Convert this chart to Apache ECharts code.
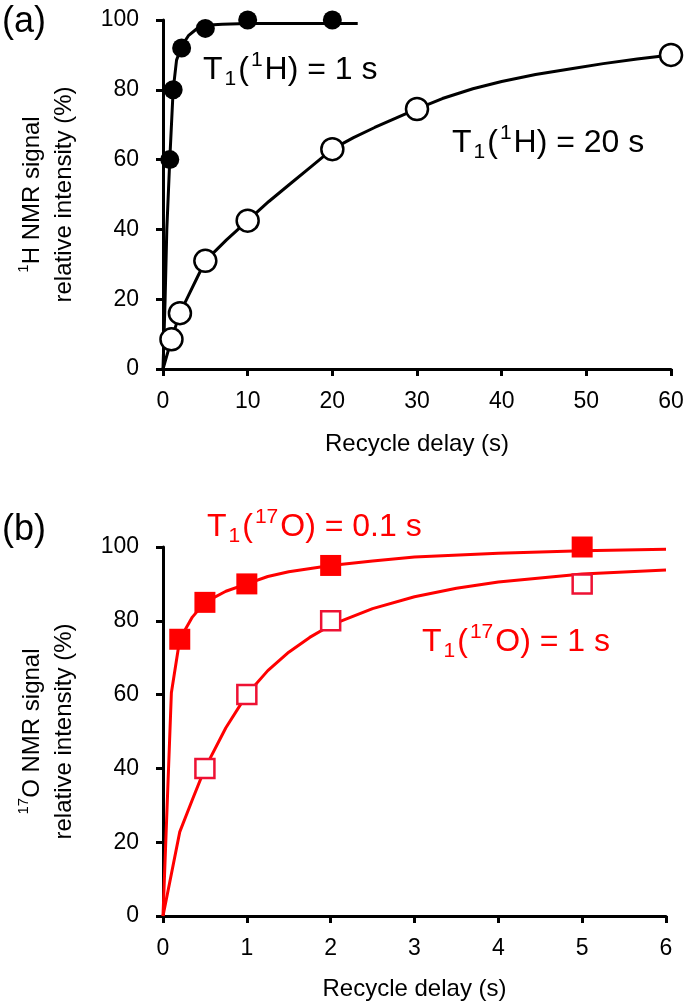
<!DOCTYPE html>
<html><head><meta charset="utf-8">
<script src="https://cdn.jsdelivr.net/npm/echarts@6/dist/echarts.min.js"></script>
<style>html,body{margin:0;padding:0;background:#fff}#c{width:687px;height:1006px}</style>
</head><body><div id="c"></div>
<script>
// ---- Panel (a): 1H ----
const hFastPtsT = [0.8, 1.2, 2.2, 5, 10, 20];
const hFastPtsV = [60, 80, 92, 97.6, 100, 100];
const hFastFitT = [0, 0.25, 0.45, 0.8, 1.2, 1.6, 2.2, 3, 4, 5, 7, 10, 23];
const hFastFitV = [0, 20, 40, 60, 80, 88.5, 92.5, 95.5, 97.5, 98.5, 98.8, 99, 99];
const hSlowPtsT = [1, 2, 5, 10, 20, 30, 60];
const hSlowPtsV = [8.5, 16, 31, 42.5, 63, 74.5, 90];
const hSlowFitT = [0, 1, 2, 3, 4, 5, 7.5, 10, 12.5, 15, 17.5, 20, 22.5, 25, 27.5, 30, 33, 36.6, 40, 44, 48.4, 52, 56, 60];
const hSlowFitV = [0, 8.5, 16, 21, 26, 31, 37, 42.5, 48, 53, 58, 63, 66.3, 69.2, 71.9, 74.5, 77.5, 80.3, 82.4, 84.4, 86.1, 87.5, 88.8, 90];
const hXTicks = [0, 10, 20, 30, 40, 50, 60];
// ---- Panel (b): 17O ----
const oFastPtsT = [0.2, 0.5, 1, 2, 5];
const oFastPtsV = [75, 85, 90, 95, 100];
const oFastFitT = [0, 0.1, 0.2, 0.35, 0.5, 0.75, 1, 1.25, 1.5, 2, 2.5, 3, 4, 5, 6];
const oFastFitV = [0, 60.5, 75, 81, 85, 88, 90, 92, 93.3, 95, 96.2, 97.3, 98.3, 99, 99.4];
const oSlowPtsT = [0.5, 1, 2, 5];
const oSlowPtsV = [40, 60, 80, 90];
const oSlowFitT = [0, 0.2, 0.35, 0.5, 0.75, 1, 1.25, 1.5, 1.75, 2, 2.5, 3, 3.5, 4, 5, 6];
const oSlowFitV = [0, 22.8, 31.5, 40, 51, 60, 66.5, 71.5, 75.5, 78.8, 83.3, 86.5, 88.8, 90.5, 92.7, 93.8];
const yTicks = [0, 20, 40, 60, 80, 100];

const zip = (a, b) => a.map((v, i) => [v, b[i]]);
const FF = '"Liberation Sans", Arial, sans-serif';
const RED = '#ff0000';

function xAx(idx, max, interval, top) {
  return {
    gridIndex: idx, type: 'value', min: 0, max: max, interval: interval,
    name: 'Recycle delay (s)', nameLocation: 'middle', nameGap: top ? 63 : 61,
    nameTextStyle: {fontFamily: FF, fontSize: 24, color: '#000'},
    axisLine: {show: true, onZero: false, lineStyle: {color: '#000', width: 3}},
    axisTick: {show: true, inside: false, length: 7, lineStyle: {color: '#000', width: 3}},
    axisLabel: {fontFamily: FF, fontSize: 23, color: '#000', margin: 21},
    splitLine: {show: false}
  };
}
function yAx(idx, nucl) {
  return {
    gridIndex: idx, type: 'value', min: 0, max: 100, interval: 20,
    name: '{sup|' + nucl + '}{n|' + (nucl === '1' ? 'H' : 'O') + ' NMR signal}\n{n|relative intensity (%)}',
    nameLocation: 'middle', nameRotate: 90, nameGap: 83,
    nameTextStyle: {fontFamily: FF, fontSize: 24, color: '#000', lineHeight: 32,
      rich: {n: {fontFamily: FF, fontSize: 24, color: '#000', lineHeight: 32},
             sup: {fontFamily: FF, fontSize: 15, color: '#000', lineHeight: 22, verticalAlign: 'top'}}},
    axisLine: {show: true, lineStyle: {color: '#000', width: 3}},
    axisTick: {show: true, inside: false, length: 7, lineStyle: {color: '#000', width: 3}},
    axisLabel: {fontFamily: FF, fontSize: 23, color: '#000', margin: 24},
    splitLine: {show: false}
  };
}
function lbl(left, cy, parts, color) {
  const text = parts.map(p => '{' + p[0] + '|' + p[1] + '}').join('');
  return {
    type: 'text', left: left, top: cy - 20, z: 100,
    style: {
      text: text, fill: color,
      rich: {
        m: {fontFamily: FF, fontSize: 32, lineHeight: 40, fill: color, color: color},
        sup: {fontFamily: FF, fontSize: 21, lineHeight: 20, verticalAlign: 'top', padding: [0, 2, 0, 2], fill: color, color: color},
        sub: {fontFamily: FF, fontSize: 21, lineHeight: 20, verticalAlign: 'bottom', padding: [0, 2, 0, 2], fill: color, color: color}
      }
    }
  };
}

const chart = echarts.init(document.getElementById('c'));
chart.setOption({
  animation: false,
  backgroundColor: '#fff',
  grid: [
    {left: 163, right: 16, top: 20, height: 349},
    {left: 163, right: 21, top: 547, height: 369}
  ],
  xAxis: [xAx(0, 60, 10, true), xAx(1, 6, 1, false)],
  yAxis: [yAx(0, '1'), yAx(1, '17')],
  graphic: [
    {type: 'text', left: 2, top: 4, style: {text: '(a)', fontFamily: FF, fontSize: 36, fill: '#000'}},
    {type: 'text', left: 2, top: 512, style: {text: '(b)', fontFamily: FF, fontSize: 36, fill: '#000'}},
    lbl(203, 70, [['m', 'T'], ['sub', '1'], ['m', '('], ['sup', '1'], ['m', 'H) = 1 s']], '#000'),
    lbl(452, 143, [['m', 'T'], ['sub', '1'], ['m', '('], ['sup', '1'], ['m', 'H) = 20 s']], '#000'),
    lbl(207, 527, [['m', 'T'], ['sub', '1'], ['m', '('], ['sup', '17'], ['m', 'O) = 0.1 s']], RED),
    lbl(422, 642, [['m', 'T'], ['sub', '1'], ['m', '('], ['sup', '17'], ['m', 'O) = 1 s']], RED)
  ],
  series: [
    {type: 'line', xAxisIndex: 0, yAxisIndex: 0, data: zip(hSlowFitT, hSlowFitV), showSymbol: false, symbol: 'none',
     smooth: false, clip: false, lineStyle: {color: '#000', width: 3, join: 'round'}, z: 2},
    {type: 'line', xAxisIndex: 0, yAxisIndex: 0, data: zip(hFastFitT, hFastFitV), showSymbol: false, symbol: 'none',
     smooth: false, clip: false, lineStyle: {color: '#000', width: 3, join: 'round'}, z: 2},
    {type: 'scatter', xAxisIndex: 0, yAxisIndex: 0, data: zip(hSlowPtsT, hSlowPtsV), symbol: 'circle', symbolSize: 22,
     clip: false, itemStyle: {color: '#fff', borderColor: '#000', borderWidth: 2.5, opacity: 1}, z: 3},
    {type: 'scatter', xAxisIndex: 0, yAxisIndex: 0, data: zip(hFastPtsT, hFastPtsV), symbol: 'circle', symbolSize: 19,
     clip: false, itemStyle: {color: '#000', opacity: 1}, z: 4},
    {type: 'line', xAxisIndex: 1, yAxisIndex: 1, data: zip(oSlowFitT, oSlowFitV), showSymbol: false, symbol: 'none',
     smooth: false, clip: false, lineStyle: {color: RED, width: 3, join: 'round'}, z: 2},
    {type: 'line', xAxisIndex: 1, yAxisIndex: 1, data: zip(oFastFitT, oFastFitV), showSymbol: false, symbol: 'none',
     smooth: false, clip: false, lineStyle: {color: RED, width: 3, join: 'round'}, z: 2},
    {type: 'scatter', xAxisIndex: 1, yAxisIndex: 1, data: zip(oSlowPtsT, oSlowPtsV), symbol: 'rect', symbolSize: 19,
     clip: false, itemStyle: {color: '#fff', borderColor: '#ee1133', borderWidth: 2.5, opacity: 1}, z: 3},
    {type: 'scatter', xAxisIndex: 1, yAxisIndex: 1, data: zip(oFastPtsT, oFastPtsV), symbol: 'rect', symbolSize: 21,
     clip: false, itemStyle: {color: RED, opacity: 1}, z: 4}
  ]
});
</script></body></html>
